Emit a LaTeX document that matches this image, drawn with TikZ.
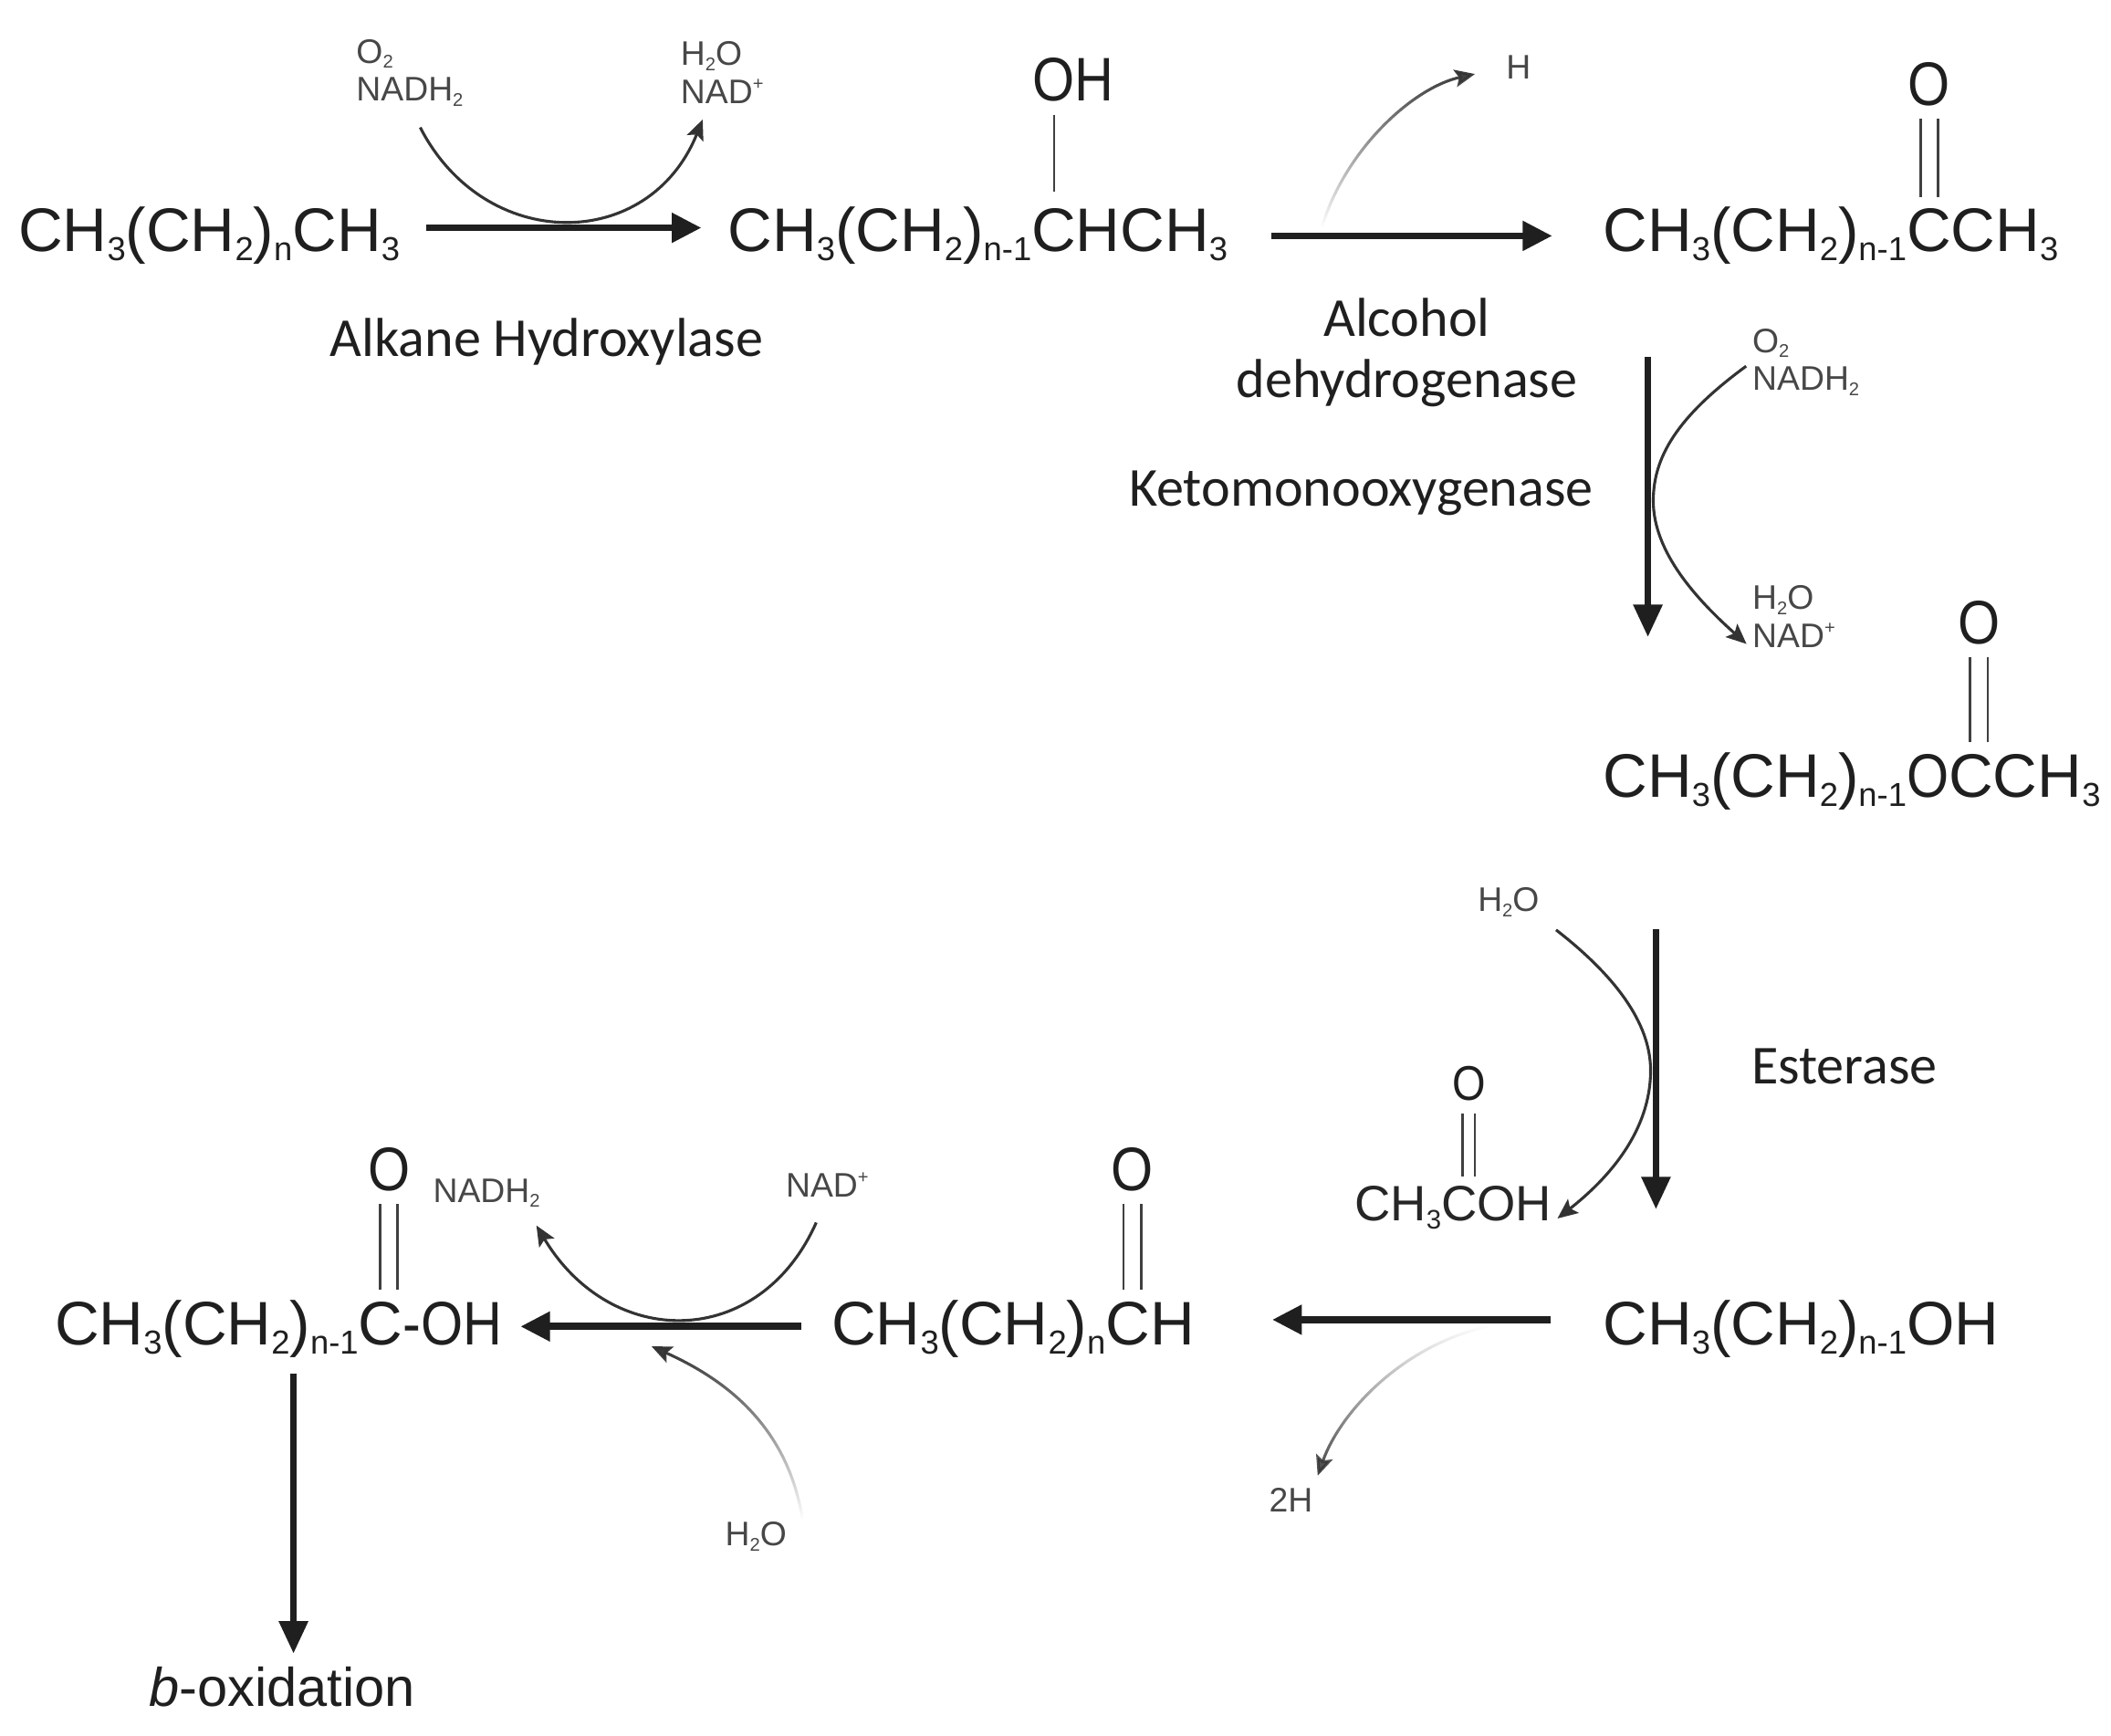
\documentclass[tikz,border=0pt]{standalone}
\usepackage{fontspec}
\setmainfont{Liberation Sans}
\newfontfamily\enzfont{Carlito}
\newfontfamily\oxyfont[FakeStretch=0.88]{Liberation Sans}
\usetikzlibrary{positioning,arrows.meta,fadings}
\newcommand{\sbs}[1]{\raisebox{-0.15em}{\scalebox{0.54}{#1}}}
\newcommand{\sps}[1]{\raisebox{0.4em}{\scalebox{0.54}{#1}}}
\tikzfading[name=fadestart,bottom color=transparent!0,middle color=transparent!15,top color=transparent!100]
\tikzfading[name=fadestartup,top color=transparent!0,middle color=transparent!15,bottom color=transparent!100]
\tikzset{
  chem/.style={font=\fontsize{13}{15}\selectfont,text=black!88,anchor=base west,inner xsep=5.4pt,inner ysep=0pt},
  chemo/.style={font=\oxyfont\fontsize{13}{15}\selectfont,text=black!88,anchor=base,inner sep=0pt},
  chemsm/.style={font=\fontsize{10.5}{12}\selectfont,text=black!85,anchor=base west,inner xsep=1pt,inner ysep=0pt},
  enz/.style={font=\enzfont\fontsize{11.6}{13}\selectfont,text=black!88,align=center},
  lbl/.style={font=\fontsize{7.2}{8}\selectfont,text=black!72,anchor=west,inner sep=0pt,align=left},
  rxn/.style={-{Triangle[length=2.2mm,width=2.1mm]},line width=1.5pt,black!88},
  rxnv/.style={-{Triangle[length=2.4mm,width=2.1mm]},line width=1.2pt,black!88},
  side/.style={-{Stealth[length=1.5mm,width=1.3mm,inset=0.3mm]},line width=0.6pt,black!80},
  bond/.style={line width=0.55pt,black!75,shorten <=0.9mm,shorten >=0.7mm},
}
\begin{document}
\begin{tikzpicture}
  \useasboundingbox (0,0) rectangle (15.68,-12.89);
  % compounds
  \node[chem] (alk) at (-0.06,-1.87) {CH\sbs{3}(CH\sbs{2})\sbs{n}CH\sbs{3}};
  \node[chem] (alc) at (5.21,-1.87) {CH\sbs{3}(CH\sbs{2})\sbs{n-1}CHCH\sbs{3}};
  \node[chem] (ket) at (11.71,-1.87) {CH\sbs{3}(CH\sbs{2})\sbs{n-1}CCH\sbs{3}};
  \node[chem] (est) at (11.71,-5.92) {CH\sbs{3}(CH\sbs{2})\sbs{n-1}{\oxyfont O}CCH\sbs{3}};
  \node[chem] (ol) at (11.71,-9.99) {CH\sbs{3}(CH\sbs{2})\sbs{n-1}OH};
  \node[chem] (ald) at (5.98,-9.99) {CH\sbs{3}(CH\sbs{2})\sbs{n}CH};
  \node[chem] (acid) at (0.21,-9.99) {CH\sbs{3}(CH\sbs{2})\sbs{n-1}C{\oxyfont -OH}};
  \node[chemsm] (acet) at (10.02,-9.07) {CH\sbs{3}COH};
  \node[chem,font=\fontsize{11.5}{13}\selectfont] (box) at (0.91,-12.67) {\textit{b}-oxidation};
  % oxygens
  \node[chemo] (oh) at (7.97,-0.75) {OH};
  \node[chemo] (oket) at (14.33,-0.78) {O};
  \node[chemo] (oest) at (14.70,-4.78) {O};
  \node[chemo] (oald) at (8.41,-8.84) {O};
  \node[chemo] (oacid) at (2.89,-8.84) {O};
  \node[chemo,font=\oxyfont\fontsize{10.3}{12}\selectfont] (oacet) at (10.91,-8.17) {O};
  % bonds
  \draw[bond,shorten >=1.1mm] ([xshift=-1.4mm]oh.south) -- ([xshift=-1.4mm]oh.south |- alc.north);
  \foreach \a/\b in {oket/ket,oest/est,oald/ald,oacid/acid}{
    \draw[bond] ([xshift=-0.65mm]\a.south) -- ([xshift=-0.65mm]\a.south |- \b.north);
    \draw[bond] ([xshift=0.65mm]\a.south) -- ([xshift=0.65mm]\a.south |- \b.north);
  }
  \draw[bond] ([xshift=-0.45mm]oacet.south) -- ([xshift=-0.45mm]oacet.south |- acet.north);
  \draw[bond] ([xshift=0.45mm]oacet.south) -- ([xshift=0.45mm]oacet.south |- acet.north);
  % enzymes
  \node[enz] (hydrox) at (4.06,-2.54) {Alkane Hydroxylase};
  \node[enz] (adh) at (10.45,-2.62) {Alcohol\\dehydrogenase};
  \node[enz] (keto) at (10.11,-3.66) {Ketomonooxygenase};
  \node[enz] (ester) at (13.70,-7.92) {Esterase};
  % cofactors
  \node[lbl] (in1) at (2.64,-0.54) {O\sbs{2}\\NADH\sbs{2}};
  \node[lbl] (out1) at (5.05,-0.54) {H\sbs{2}O\\NAD\sps{+}};
  \node[lbl] (hyd) at (11.18,-0.50) {H};
  \node[lbl] (in2) at (13.01,-2.69) {O\sbs{2}\\NADH\sbs{2}};
  \node[lbl] (out2) at (13.01,-4.58) {H\sbs{2}O\\NAD\sps{+}};
  \node[lbl] (wat1) at (10.97,-6.70) {H\sbs{2}O};
  \node[lbl] (twoh) at (9.42,-11.14) {2H};
  \node[lbl] (nadh) at (3.21,-8.86) {NADH\sbs{2}};
  \node[lbl] (nad) at (5.83,-8.80) {NAD\sps{+}};
  \node[lbl] (wat2) at (5.38,-11.41) {H\sbs{2}O};
  % free ends
  \coordinate (kt) at (12.24,-2.65);
  \coordinate (kb) at (12.24,-4.73);
  \coordinate (et) at (12.30,-6.90);
  \coordinate (eb) at (12.30,-8.98);
  \coordinate (bt) at (2.18,-10.20);
  \coordinate (bb) at (2.18,-12.28);
  \coordinate (hs) at (9.82,-1.68);
  \coordinate (ts) at (11.05,-9.85);
  \coordinate (ws) at (5.96,-11.28);
  \coordinate (we) at (4.84,-10.00);
  % main arrows
  \draw[rxn] ([yshift=0.6mm]alk.east) -- ([yshift=0.6mm]alc.west);
  \draw[rxn,shorten <=1.3mm,shorten >=1.8mm] (alc.east) -- (ket.west);
  \draw[rxn,shorten <=1.9mm,shorten >=3.8mm] ([yshift=0.7mm]ol.west) -- ([yshift=0.7mm]ald.east);
  \draw[rxn,shorten <=0.3mm,shorten >=-0.6mm] ([yshift=0.2mm]ald.west) -- ([yshift=0.2mm]acid.east);
  \draw[rxnv] (kt) -- (kb);
  \draw[rxnv] (et) -- (eb);
  \draw[rxnv] (bt) -- (bb);
  % side arrows
  \draw[side,shorten <=1.7mm,shorten >=1.2mm] (in1.south) .. controls (3.60,-1.88) and (4.82,-1.88) .. ([xshift=-1mm]out1.south);
  \draw[side,shorten <=0.5mm,shorten >=0.5mm] (in2.west) .. controls (12.45,-3.10) and (12.28,-3.40) .. (12.28,-3.72) .. controls (12.28,-4.10) and (12.60,-4.45) .. (out2.south west);
  \draw[side,shorten <=1.5mm] (wat1.south east) .. controls (12.00,-7.25) and (12.26,-7.60) .. (12.26,-7.95) .. controls (12.26,-8.40) and (11.95,-8.75) .. ([yshift=-0.8mm]acet.east);
  \draw[side,shorten <=2mm,shorten >=1.5mm] (nad.south) .. controls (5.64,-10.03) and (4.54,-10.03) .. ([xshift=-1.1mm]nadh.south east);
  \draw[side,path fading=fadestartup,shorten >=2.3mm] (hs) .. controls (10.00,-1.10) and (10.50,-0.65) .. (hyd.west);
  \draw[side,path fading=fadestart,shorten >=0.9mm] (ts) .. controls (10.40,-10.00) and (9.95,-10.50) .. (twoh.north east);
  \draw[side,path fading=fadestartup] (ws) .. controls (5.85,-10.60) and (5.40,-10.25) .. (we);
\end{tikzpicture}
\end{document}
